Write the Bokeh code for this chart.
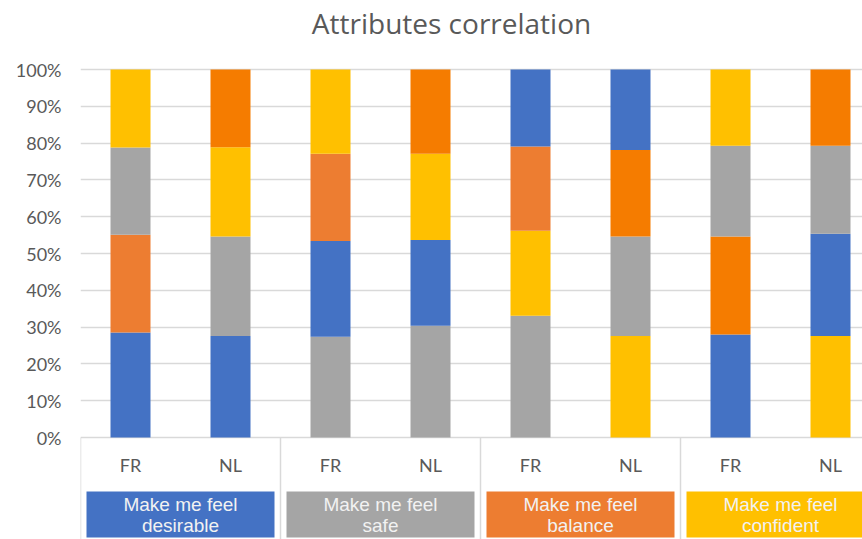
import numpy as np
from bokeh.plotting import figure
from bokeh.models import Range1d, FixedTicker, NumeralTickFormatter, ColumnDataSource
from bokeh.core.properties import value
from bokeh.embed import file_html
from bokeh.resources import INLINE

# ---------------- data ----------------
title_text = "Attributes correlation"
countries = ["FR", "NL", "FR", "NL", "FR", "NL", "FR", "NL"]
attribute_line1 = ["Make me feel", "Make me feel", "Make me feel", "Make me feel"]
attribute_line2 = ["desirable", "safe", "balance", "confident"]
attribute_colors = ["#4472C4", "#A5A5A5", "#ED7D31", "#FFC000"]
y_ticks = [0, 10, 20, 30, 40, 50, 60, 70, 80, 90, 100]

palette = {"blue": "#4472C4", "gray": "#A5A5A5", "orange": "#ED7D31",
           "yellow": "#FFC000", "dkorange": "#F57C00"}

# stacked segments, bottom to top (percent)
seg1 = [28.5, 27.6, 27.4, 30.4, 33.1, 27.6, 28.0, 27.6]
seg1_col = ["blue", "blue", "gray", "gray", "gray", "yellow", "blue", "yellow"]
seg2 = [26.6, 27.0, 26.0, 23.3, 23.1, 27.0, 26.6, 27.8]
seg2_col = ["orange", "gray", "blue", "blue", "yellow", "gray", "dkorange", "blue"]
seg3 = [23.7, 24.3, 23.7, 23.4, 22.9, 23.5, 24.7, 23.9]
seg3_col = ["gray", "yellow", "orange", "yellow", "orange", "dkorange", "gray", "gray"]
seg4 = [21.2, 21.1, 22.9, 22.9, 20.9, 21.9, 20.7, 20.7]
seg4_col = ["yellow", "dkorange", "yellow", "dkorange", "blue", "blue", "yellow", "dkorange"]

# ---------------- figure ----------------
W, H = 862, 539
p = figure(width=W, height=H, output_backend="svg", toolbar_location=None,
           x_range=Range1d(-0.5, 7.32), y_range=Range1d(-102 / 368, 437 / 368),
           min_border_left=80, min_border_right=0, min_border_top=0, min_border_bottom=0)
p.outline_line_color = None
p.background_fill_color = "white"
p.border_fill_color = "white"
p.xaxis.visible = False
p.xgrid.visible = False

p.yaxis.ticker = FixedTicker(ticks=[t / 100 for t in y_ticks])
p.yaxis.formatter = NumeralTickFormatter(format="0%")
p.yaxis.axis_line_color = None
p.yaxis.major_tick_line_color = None
p.yaxis.minor_tick_line_color = None
p.yaxis.major_tick_out = 0
p.yaxis.major_tick_in = 0
p.yaxis.major_label_standoff = 19
p.yaxis.major_label_text_font = "Lato"
p.yaxis.major_label_text_font_size = "18px"
p.yaxis.major_label_text_color = "#595959"
p.ygrid.ticker = FixedTicker(ticks=[t / 100 for t in y_ticks])
p.ygrid.grid_line_color = "#D9D9D9"
p.ygrid.grid_line_width = 1.5

# bars
xs = np.arange(len(countries))
bottom = np.zeros(len(countries))
rows = {"x": [], "bottom": [], "top": [], "color": []}
for vals, cols in [(seg1, seg1_col), (seg2, seg2_col), (seg3, seg3_col), (seg4, seg4_col)]:
    v = np.array(vals) / 100.0
    for i in range(len(countries)):
        rows["x"].append(xs[i])
        rows["bottom"].append(bottom[i])
        rows["top"].append(bottom[i] + v[i])
        rows["color"].append(palette[cols[i]])
    bottom = bottom + v
p.vbar(x="x", bottom="bottom", top="top", width=0.4, fill_color="color",
       line_color=None, source=ColumnDataSource(rows))

# category axis (multi level)
sep_x = [-0.5, 1.5, 3.5, 5.5]
p.segment(x0=sep_x, x1=sep_x, y0=[0] * 4, y1=[-0.3] * 4, line_color="#D9D9D9", line_width=1.5)

p.text(x=list(xs), y=[-27.5 / 368] * len(countries), text=countries,
       text_font=value("Lato"), text_font_size="18px", text_color="#595959",
       text_align="center", text_baseline="middle")

gcx = np.array([0.5, 2.5, 4.5, 6.5])
p.quad(left=list(gcx - 0.94), right=list(gcx + 0.94), bottom=[-100 / 368] * 4,
       top=[-54 / 368] * 4, fill_color=attribute_colors, line_color=None)
p.text(x=list(gcx), y=[-66.5 / 368] * 4, text=attribute_line1,
       text_font=value("Liberation Sans"), text_font_size="19px", text_color="#F2F2F2",
       text_align="center", text_baseline="middle")
p.text(x=list(gcx), y=[-87.5 / 368] * 4, text=attribute_line2,
       text_font=value("Liberation Sans"), text_font_size="19px", text_color="#F2F2F2",
       text_align="center", text_baseline="middle")

# title
p.text(x=[3.21], y=[(437 - 22) / 368], text=[title_text],
       text_font=value("Open Sans"), text_font_size="28px", text_color="#595959",
       text_align="center", text_baseline="middle")

open("out.html", "w").write(file_html(p, INLINE))
